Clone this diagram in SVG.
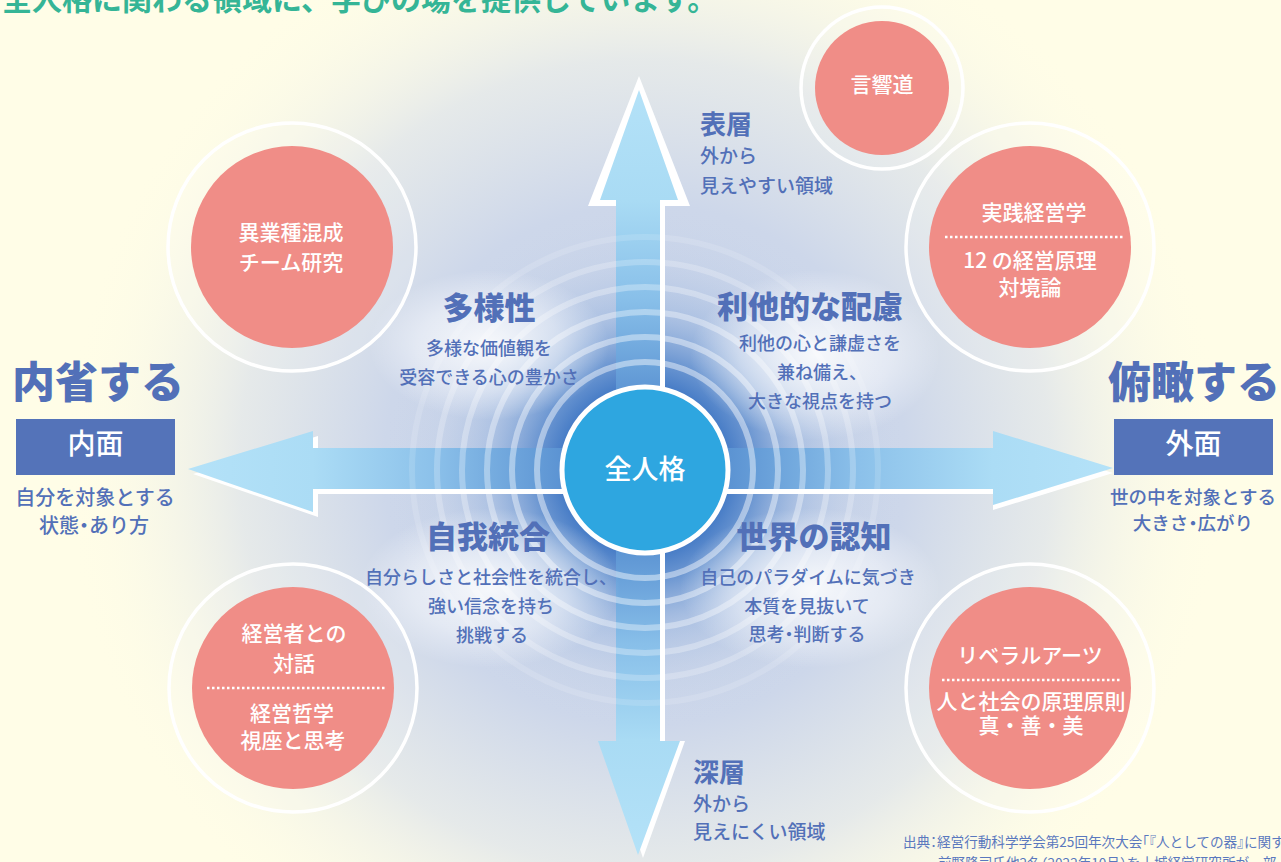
<svg xmlns="http://www.w3.org/2000/svg" width="1281" height="862" viewBox="0 0 1281 862">
<defs>
<style>
text{font-family:'Noto Sans CJK JP','Noto Sans CJK SC',sans-serif}
.b{fill:#5270b8}
.h1{font-size:31px;font-weight:900;text-anchor:middle}
.sub{font-size:18px;font-weight:500;text-anchor:middle}
.big{font-size:43px;font-weight:900}
.ct{font-size:21px;font-weight:500;fill:#fff;text-anchor:middle}
.halt{font-feature-settings:"halt" 1}
.pink{fill:#f08d87}
.ring{fill:#fff;fill-opacity:.12;stroke:#fff;stroke-width:3.5}
.dot{stroke:#fff;stroke-width:2.5;stroke-dasharray:2.5 2.5;fill:none}
.rg{fill:none;stroke:#fff;stroke-width:6}
.wh{fill:#fff}
</style>
<radialGradient id="bgGlow" cx="645" cy="465" r="580" gradientUnits="userSpaceOnUse">
<stop offset="0" stop-color="#c3d0e8"/>
<stop offset="0.45" stop-color="#cdd7ea"/>
<stop offset="0.7" stop-color="#e1e6ea" stop-opacity="0.85"/>
<stop offset="1" stop-color="#fffde7" stop-opacity="0"/>
</radialGradient>
<radialGradient id="cGlow" cx="645" cy="470" r="260" gradientUnits="userSpaceOnUse">
<stop offset="0.3" stop-color="#3d75c3" stop-opacity="1"/>
<stop offset="0.42" stop-color="#5386cb" stop-opacity="0.8"/>
<stop offset="0.6" stop-color="#8aabdb" stop-opacity="0.45"/>
<stop offset="0.8" stop-color="#b5c7e5" stop-opacity="0.18"/>
<stop offset="1" stop-color="#c8d4ea" stop-opacity="0"/>
</radialGradient>
<radialGradient id="halo">
<stop offset="0" stop-color="#ffffff" stop-opacity="0.85"/>
<stop offset="0.6" stop-color="#ffffff" stop-opacity="0.45"/>
<stop offset="1" stop-color="#ffffff" stop-opacity="0"/>
</radialGradient>
<linearGradient id="gUp" x1="0" y1="88" x2="0" y2="400" gradientUnits="userSpaceOnUse">
<stop offset="0" stop-color="#b4e2f8"/>
<stop offset="0.36" stop-color="#a9dbf4"/>
<stop offset="0.68" stop-color="#88bfe9"/>
<stop offset="1" stop-color="#5a92d2"/>
</linearGradient>
<linearGradient id="gDown" x1="0" y1="855" x2="0" y2="545" gradientUnits="userSpaceOnUse">
<stop offset="0" stop-color="#b4e2f8"/>
<stop offset="0.37" stop-color="#a9dbf4"/>
<stop offset="0.68" stop-color="#88bfe9"/>
<stop offset="1" stop-color="#5a92d2"/>
</linearGradient>
<linearGradient id="gLeft" x1="188" y1="0" x2="565" y2="0" gradientUnits="userSpaceOnUse">
<stop offset="0" stop-color="#b4e2f8"/>
<stop offset="0.33" stop-color="#abdcf5"/>
<stop offset="0.65" stop-color="#8cc1ea"/>
<stop offset="1" stop-color="#5a92d2"/>
</linearGradient>
<linearGradient id="gRight" x1="1113" y1="0" x2="725" y2="0" gradientUnits="userSpaceOnUse">
<stop offset="0" stop-color="#b4e2f8"/>
<stop offset="0.31" stop-color="#abdcf5"/>
<stop offset="0.65" stop-color="#8cc1ea"/>
<stop offset="1" stop-color="#5a92d2"/>
</linearGradient>
</defs>

<rect width="1281" height="862" fill="#fffde7"/>
<circle cx="645" cy="465" r="580" fill="url(#bgGlow)"/>
<circle cx="645" cy="470" r="260" fill="url(#cGlow)"/>

<text x="2" y="10" font-size="30" font-weight="700" fill="#35b596">全人格に関わる領域に、学びの場を提供しています。</text>

<g id="connectors">
<g id="arrow-up">
<polygon class="wh" points="639,76 690,206 665,206 665,470 616,470 616,206 588,206"/>
<polygon fill="url(#gUp)" points="639,90 678,200 660,200 660,470 616,470 616,200 600,200"/>
</g>
<g id="arrow-down">
<polygon class="wh" points="621,470 665,470 665,741 685,741 643,858 603,741 621,741"/>
<polygon fill="url(#gDown)" points="616,470 660,470 660,741 680,741 638,855 598,741 616,741"/>
</g>
<g id="arrow-left">
<polygon class="wh" transform="translate(5,5)" points="188,469 313,431 313,448 640,448 640,489 313,489 313,512"/>
<polygon fill="url(#gLeft)" points="188,469 313,431 313,448 640,448 640,489 313,489 313,512"/>
</g>
<g id="arrow-right">
<polygon class="wh" transform="translate(0,5)" points="650,448 993,448 993,431 1113,468 993,505 993,489 650,489"/>
<polygon fill="url(#gRight)" points="650,448 993,448 993,431 1113,468 993,505 993,489 650,489"/>
</g>
</g>

<g id="rings">
<circle class="rg" cx="645" cy="470" r="108" stroke-opacity="0.45"/>
<circle class="rg" cx="645" cy="470" r="133" stroke-opacity="0.42"/>
<circle class="rg" cx="645" cy="470" r="158" stroke-opacity="0.37"/>
<circle class="rg" cx="645" cy="470" r="183" stroke-opacity="0.3"/>
<circle class="rg" cx="645" cy="470" r="208" stroke-opacity="0.23"/>
<circle class="rg" cx="645" cy="470" r="233" stroke-opacity="0.14"/>
</g>

<g id="halos">
<ellipse cx="489" cy="345" rx="120" ry="75" fill="url(#halo)"/>
<ellipse cx="815" cy="355" rx="125" ry="85" fill="url(#halo)"/>
<ellipse cx="490" cy="588" rx="130" ry="80" fill="url(#halo)"/>
<ellipse cx="810" cy="588" rx="130" ry="80" fill="url(#halo)"/>
</g>

<g id="node-center">
<circle cx="645" cy="470" r="83" fill="#2ea6e0" stroke="#fff" stroke-width="5"/>
<text x="645" y="479" font-size="27" font-weight="500" fill="#fff" text-anchor="middle">全人格</text>
</g>

<g id="node-tayousei">
<text class="b h1" x="489" y="319">多様性</text>
<text class="b sub" x="489" y="354.5">多様な価値観を</text>
<text class="b sub" x="489" y="383.5">受容できる心の豊かさ</text>
</g>
<g id="node-rita">
<text class="b h1" x="810" y="318">利他的な配慮</text>
<text class="b sub" x="820" y="349.5">利他の心と謙虚さを</text>
<text class="b sub" x="822" y="379">兼ね備え、</text>
<text class="b sub" x="820" y="408">大きな視点を持つ</text>
</g>
<g id="node-jiga">
<text class="b h1" x="488" y="548">自我統合</text>
<text class="b sub" x="491" y="583.5">自分らしさと社会性を統合し、</text>
<text class="b sub" x="491" y="613">強い信念を持ち</text>
<text class="b sub" x="492" y="641.5">挑戦する</text>
</g>
<g id="node-sekai">
<text class="b h1" x="814" y="548">世界の認知</text>
<text class="b sub" x="808" y="583.5">自己のパラダイムに気づき</text>
<text class="b sub" x="807" y="612.5">本質を見抜いて</text>
<text class="b sub halt" x="807" y="640.5">思考・判断する</text>
</g>

<g id="node-hyousou">
<text class="b" x="700" y="134" font-size="26" font-weight="700">表層</text>
<text class="b" x="700" y="163" font-size="19" font-weight="500">外から</text>
<text class="b" x="700" y="193" font-size="19" font-weight="500">見えやすい領域</text>
</g>
<g id="node-shinsou">
<text class="b" x="693" y="782" font-size="26" font-weight="700">深層</text>
<text class="b" x="693" y="811" font-size="19" font-weight="500">外から</text>
<text class="b" x="693" y="839" font-size="19" font-weight="500">見えにくい領域</text>
</g>

<g id="node-naisei">
<text class="b big" x="12" y="398">内省する</text>
<rect x="16" y="419" width="159" height="56" fill="#5473b9"/>
<text x="95.5" y="454" font-size="28" font-weight="500" fill="#fff" text-anchor="middle">内面</text>
<text class="b" x="95" y="505" font-size="20" font-weight="500" text-anchor="middle">自分を対象とする</text>
<text class="b halt" x="94" y="533" font-size="20" font-weight="500" text-anchor="middle">状態・あり方</text>
</g>
<g id="node-fukan">
<text class="b big" x="1194" y="398" text-anchor="middle">俯瞰する</text>
<rect x="1114" y="419" width="159" height="56" fill="#5473b9"/>
<text x="1193.5" y="454" font-size="28" font-weight="500" fill="#fff" text-anchor="middle">外面</text>
<text class="b" x="1193" y="504" font-size="18.5" font-weight="500" text-anchor="middle">世の中を対象とする</text>
<text class="b halt" x="1193" y="530" font-size="18.5" font-weight="500" text-anchor="middle">大きさ・広がり</text>
</g>

<g id="node-gonkyodo">
<circle class="ring" cx="882" cy="88" r="81"/>
<circle class="pink" cx="882" cy="88" r="67"/>
<text class="ct" x="882" y="92" font-size="22">言響道</text>
</g>
<g id="node-jissen">
<circle class="ring" cx="1030" cy="247" r="124"/>
<circle class="pink" cx="1030" cy="247" r="101"/>
<text class="ct" x="1034" y="220" font-size="22">実践経営学</text>
<line class="dot" x1="945" y1="237" x2="1123" y2="237"/>
<text class="ct" x="1030" y="268">12 の経営原理</text>
<text class="ct" x="1030" y="295">対境論</text>
</g>
<g id="node-igyoshu">
<circle class="ring" cx="292" cy="247" r="124"/>
<circle class="pink" cx="292" cy="247" r="101"/>
<text class="ct" x="291" y="240" font-size="22">異業種混成</text>
<text class="ct" x="291" y="270" font-size="22">チーム研究</text>
</g>
<g id="node-taiwa">
<circle class="ring" cx="293" cy="688" r="124"/>
<circle class="pink" cx="293" cy="688" r="101"/>
<text class="ct" x="294" y="641" font-size="22">経営者との</text>
<text class="ct" x="294" y="671" font-size="22">対話</text>
<line class="dot" x1="207" y1="688" x2="385" y2="688"/>
<text class="ct" x="292" y="721">経営哲学</text>
<text class="ct" x="293" y="748">視座と思考</text>
</g>
<g id="node-liberal">
<circle class="ring" cx="1030" cy="688" r="124"/>
<circle class="pink" cx="1030" cy="688" r="101"/>
<text class="ct" x="1030" y="663" font-size="22">リベラルアーツ</text>
<line class="dot" x1="942" y1="680" x2="1120" y2="680"/>
<text class="ct" x="1031" y="709" font-size="20">人と社会の原理原則</text>
<text class="ct" x="1031" y="733" font-size="20">真・善・美</text>
</g>

<g id="source">
<text class="halt" x="903" y="847" font-size="13.6" fill="#5a78be">出典：経営行動科学学会第25回年次大会「『人としての器』に関する</text>
<text class="halt" x="938" y="868" font-size="13.6" fill="#5a78be">前野隆司氏他2名（2022年10月）を十城経営研究所が一部</text>
</g>
</svg>
